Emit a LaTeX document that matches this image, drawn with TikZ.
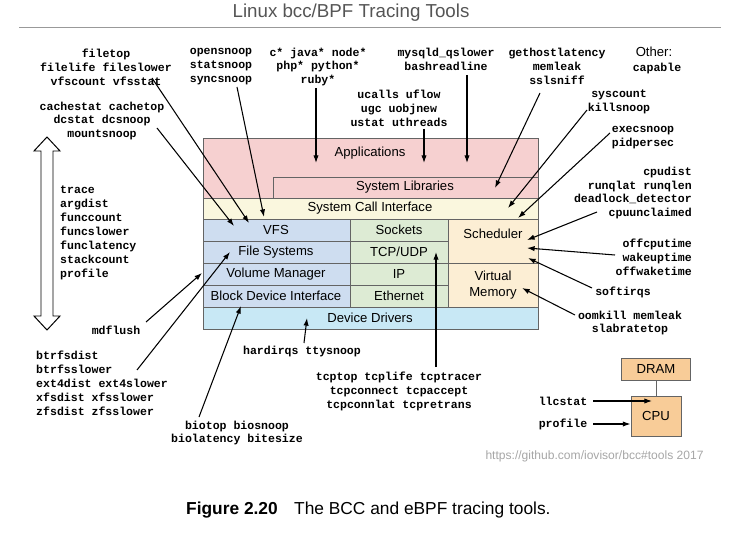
\documentclass[tikz,border=0pt]{standalone}
\usepackage{fontspec}
\setmainfont{Liberation Sans}
\setmonofont{Liberation Mono}
\usetikzlibrary{arrows.meta}

\definecolor{appfill}{RGB}{246,208,208}
\definecolor{sysfill}{RGB}{250,247,222}
\definecolor{fsfill}{RGB}{206,221,240}
\definecolor{netfill}{RGB}{221,235,212}
\definecolor{cpufill}{RGB}{252,238,212}
\definecolor{drvfill}{RGB}{200,232,245}
\definecolor{hwfill}{RGB}{248,204,152}
\definecolor{edgegray}{RGB}{100,100,100}
\definecolor{titlegray}{RGB}{85,85,85}

\newcommand\toolfont{\fontsize{9.85}{11.9}\selectfont\ttfamily\bfseries}
\newcommand\layerfont{\fontsize{11.2}{13.4}\selectfont}

\begin{document}
\begin{tikzpicture}[x=0.03cm,y=-0.03cm,
  toolname/.style={font=\toolfont,align=center,inner sep=0pt},
  layername/.style={font=\layerfont,align=center,inner sep=0pt},
  layerbox/.style={draw=edgegray,line width=0.85pt},
  hwbox/.style={draw=edgegray,fill=hwfill,line width=0.85pt,font=\layerfont},
  ptr/.style={-{Latex[length=6.5pt,width=4.5pt]},line width=0.9pt}]
\useasboundingbox (0,0) rectangle (754,541);

% title
\node[font=\fontsize{16}{19}\selectfont,text=titlegray] (title) at (351,13) {Linux bcc/BPF Tracing Tools};
\draw[gray!80,line width=0.8pt] (19,27) -- (721,27);

% software stack
\draw[layerbox,fill=appfill] (203,138) rectangle (538,198);
\draw[layerbox,fill=appfill] (273,177) rectangle (538,198);
\draw[layerbox,fill=sysfill] (203,198) rectangle (538,219);
\draw[layerbox,fill=fsfill] (203,219) rectangle (350,241);
\draw[layerbox,fill=fsfill] (203,241) rectangle (350,263);
\draw[layerbox,fill=fsfill] (203,263) rectangle (350,285);
\draw[layerbox,fill=fsfill] (203,285) rectangle (350,307);
\draw[layerbox,fill=netfill] (350,219) rectangle (448,241);
\draw[layerbox,fill=netfill] (350,241) rectangle (448,263);
\draw[layerbox,fill=netfill] (350,263) rectangle (448,285);
\draw[layerbox,fill=netfill] (350,285) rectangle (448,307);
\draw[layerbox,fill=cpufill] (448,219) rectangle (538,263);
\draw[layerbox,fill=cpufill] (448,263) rectangle (538,307);
\draw[layerbox,fill=drvfill] (203,307) rectangle (538,329);

\node[layername] (apps) at (370,153) {Applications};
\node[layername] (syslib) at (405,187) {System Libraries};
\node[layername] (syscall) at (370,208) {System Call Interface};
\node[layername] (vfs) at (276,230) {VFS};
\node[layername] (filesys) at (276,252) {File Systems};
\node[layername] (volmgr) at (276,274) {Volume Manager};
\node[layername] (blockdev) at (276,296) {Block Device Interface};
\node[layername] (sockets) at (399,230) {Sockets};
\node[layername] (tcpudp) at (399,252) {TCP/UDP};
\node[layername] (ip) at (399,274) {IP};
\node[layername] (ethernet) at (399,296) {Ethernet};
\node[layername] (sched) at (493,234) {Scheduler};
\node[layername] (vmem) at (493,285) {Virtual\\Memory};
\node[layername] (drivers) at (370,318) {Device Drivers};

% hardware
\node[hwbox,minimum width=2.07cm,minimum height=0.66cm] (dram) at (656,369) {DRAM};
\node[hwbox,minimum width=1.5cm,minimum height=1.2cm] (cpu) at (656,416) {CPU};
\draw[edgegray,line width=0.85pt] (dram) -- (cpu);

% tools
\node[toolname] (filetop) at (106,67) {filetop\\filelife fileslower\\vfscount vfsstat};
\node[toolname] (cachestat) at (102,121) {cachestat cachetop\\dcstat dcsnoop\\mountsnoop};
\node[toolname] (opensnoop) at (221,67) {opensnoop\\statsnoop\\syncsnoop};
\node[toolname] (langs) at (318,67) {c* java* node*\\php* python*\\ruby*};
\node[toolname] (mysqld) at (446,59) {mysqld\_qslower\\bashreadline};
\node[toolname] (gethost) at (557,66) {gethostlatency\\memleak\\sslsniff};
\node[font=\layerfont,inner sep=0pt] (other) at (654,52) {Other:};
\node[toolname] (capable) at (657,69) {capable};
\node[toolname] (ucalls) at (399,108) {ucalls uflow\\ugc uobjnew\\ustat uthreads};
\node[toolname] (syscount) at (619,102) {syscount\\killsnoop};
\node[toolname] (execsnoop) at (643,138) {execsnoop\\pidpersec};
\node[toolname,align=right,anchor=east] (cpudist) at (692,193) {cpudist\\runqlat runqlen\\deadlock\_detector\\cpuunclaimed};
\node[toolname,align=right,anchor=east] (offcpu) at (692,257) {offcputime\\wakeuptime\\offwaketime};
\node[toolname] (softirqs) at (623,292) {softirqs};
\node[toolname] (oomkill) at (630,323) {oomkill memleak\\slabratetop};
\node[toolname,align=left,anchor=west] (trace) at (60,233) {trace\\argdist\\funccount\\funcslower\\funclatency\\stackcount\\profile};
\node[toolname] (mdflush) at (116,330) {mdflush};
\node[toolname,align=left,anchor=west] (btrfs) at (36,383) {btrfsdist\\btrfsslower\\ext4dist ext4slower\\xfsdist xfsslower\\zfsdist zfsslower};
\node[toolname] (biotop) at (237,433) {biotop biosnoop\\biolatency bitesize};
\node[toolname] (hardirqs) at (302,352) {hardirqs ttysnoop};
\node[toolname] (tcptop) at (399,391) {tcptop tcplife tcptracer\\tcpconnect tcpaccept\\tcpconnlat tcpretrans};
\node[toolname] (llcstat) at (563,401) {llcstat};
\node[toolname] (profile) at (563,424) {profile};

% scope arrow: whole stack
\draw[line width=0.85pt,fill=white] (47,137) -- (60,151) -- (53,151) -- (53,316) -- (60,316) -- (47,330)
  -- (34,316) -- (41,316) -- (41,151) -- (34,151) -- cycle;

% arrow ends
\coordinate (cachestat-out) at (157,128);  \coordinate (vfs-in1) at (234,226);
\coordinate (filetop-out) at (152,78);     \coordinate (vfs-in2) at (249,223);
\coordinate (opensnoop-out) at (237,87);   \coordinate (vfs-in3) at (264,217);
\coordinate (langs-out) at (316,88);       \coordinate (apps-in1) at (316,163);
\coordinate (ucalls-out) at (424,129);     \coordinate (apps-in2) at (424,163);
\coordinate (mysqld-out) at (467,75);      \coordinate (apps-in3) at (467,163);
\coordinate (gethost-out) at (540,93);     \coordinate (syslib-in) at (495,188);
\coordinate (syscount-out) at (587,110);   \coordinate (syscall-in) at (508,208);
\coordinate (execsnoop-out) at (610,133);  \coordinate (sched-in1) at (518,218);
\coordinate (cpudist-out) at (597,212);    \coordinate (sched-in2) at (527,240);
\coordinate (offcpu-out) at (615,255);     \coordinate (sched-in3) at (527,248);
\coordinate (softirqs-out) at (592,288);   \coordinate (sched-in4) at (528,258);
\coordinate (oomkill-out) at (575,315);    \coordinate (vmem-in) at (522,288);
\coordinate (mdflush-out) at (146,322);    \coordinate (volmgr-in) at (202,273);
\coordinate (btrfs-out) at (137,370);      \coordinate (filesys-in) at (230,252);
\coordinate (biotop-out) at (199,417);     \coordinate (blockdev-in) at (241,306);
\coordinate (hardirqs-out) at (304,343);   \coordinate (drivers-in) at (307,318);
\coordinate (tcptop-out) at (436,367);     \coordinate (tcpudp-in) at (436,252);
\coordinate (cpu-in) at (652,401);

\draw[ptr] (cachestat-out) -- (vfs-in1);
\draw[ptr] (filetop-out) -- (vfs-in2);
\draw[ptr] (opensnoop-out) -- (vfs-in3);
\draw[ptr] (langs-out) -- (apps-in1);
\draw[ptr] (ucalls-out) -- (apps-in2);
\draw[ptr] (mysqld-out) -- (apps-in3);
\draw[ptr] (gethost-out) -- (syslib-in);
\draw[ptr] (syscount-out) -- (syscall-in);
\draw[ptr] (execsnoop-out) -- (sched-in1);
\draw[ptr] (cpudist-out) -- (sched-in2);
\draw[ptr] (offcpu-out) -- (sched-in3);
\draw[ptr] (softirqs-out) -- (sched-in4);
\draw[ptr] (oomkill-out) -- (vmem-in);
\draw[ptr] (mdflush-out) -- (volmgr-in);
\draw[ptr] (btrfs-out) -- (filesys-in);
\draw[ptr] (biotop-out) -- (blockdev-in);
\draw[ptr] (hardirqs-out) -- (drivers-in);
\draw[ptr] (tcptop-out) -- (tcpudp-in);
\draw[ptr,shorten <=5pt] (llcstat) -- (cpu-in);
\draw[ptr,shorten <=5pt] (profile.east) -- (profile.east -| cpu.west);

% source and caption
\node[font=\fontsize{10.3}{12}\selectfont,text=gray!70] (source) at (594.5,456) {https://github.com/iovisor/bcc\#tools 2017};
\node[anchor=west,font=\fontsize{14.8}{17}\selectfont,inner sep=0pt] (caption) at (186,510)
  {\textbf{Figure 2.20}\hspace{14pt}The BCC and eBPF tracing tools.};
\end{tikzpicture}
\end{document}
